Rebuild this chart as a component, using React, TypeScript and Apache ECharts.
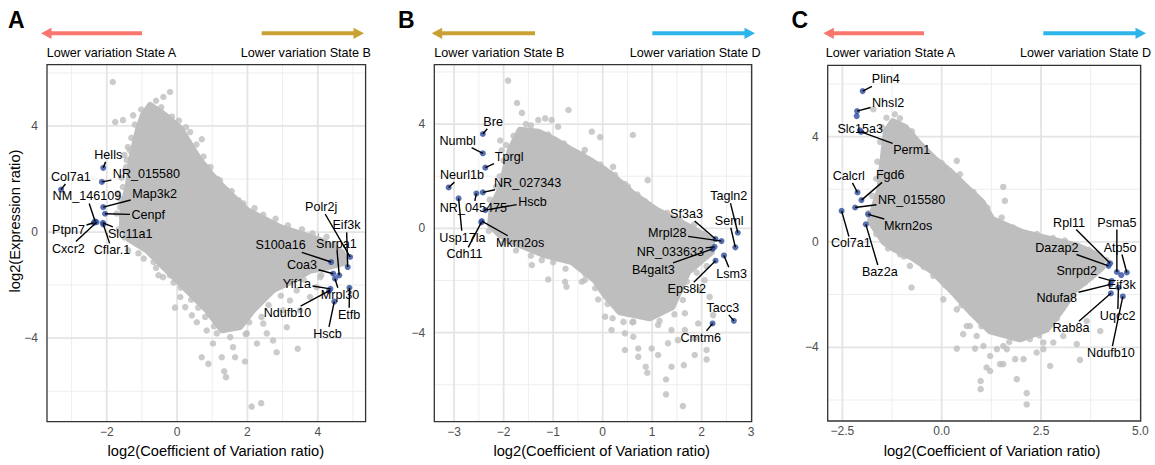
import React, { useEffect, useRef } from "react";
import * as echarts from "echarts";

const FONT = '"Liberation Sans", Arial, Helvetica, sans-serif';

// ---------------- Panel A (State A vs State B) ----------------
const genesA = ["Hells", "NR_015580", "Col7a1", "Map3k2", "Cenpf", "NM_146109", "Ptpn7", "Cxcr2", "Slc11a1", "Cflar.1",
  "Polr2j", "S100a16", "Eif3k", "Coa3", "Snrpa1", "Mrpl30", "Yif1a", "Ndufb10", "Etfb", "Hscb"];
const cvRatioA = [-2.10, -2.14, -3.30, -2.10, -2.05, -2.33, -2.37, -2.29, -2.11, -2.10,
  4.92, 4.38, 4.85, 4.44, 4.61, 4.49, 4.36, 4.32, 4.90, 4.47];
const exprRatioA = [2.42, 1.89, 1.60, 0.94, 0.69, 0.40, 0.35, 0.37, 0.35, 0.29,
  -0.94, -1.13, -1.32, -1.57, -1.63, -1.76, -2.14, -2.22, -2.10, -2.62];
const denseCloudA = [[-0.77, 4.78], [-0.34, 4.40], [0.09, 3.91], [0.43, 3.16], [0.65, 2.71], [0.99, 2.14], [1.31, 1.69],
  [1.99, 0.82], [2.93, 0.18], [4.07, -0.31], [4.69, -0.77], [4.78, -1.14], [4.35, -1.29], [3.78, -1.45], [3.21, -1.88],
  [2.73, -2.18], [2.16, -2.94], [1.79, -3.57], [1.28, -3.69], [0.85, -2.94], [0.28, -2.18], [-0.28, -1.45], [-0.85, -0.69],
  [-1.39, -0.24], [-1.56, 0.25], [-1.54, 1.01], [-1.39, 1.76], [-1.31, 2.71], [-1.11, 3.84], [-0.97, 4.40]];
const cloudPointsA = [[-1.83, 5.66], [-0.20, 5.28], [-0.39, 5.09], [-1.76, 4.15], [-1.54, 4.22], [-1.25, 4.40], [-0.86, 4.40],
  [-1.05, 3.84], [-1.19, 3.46], [-1.34, 3.08], [-1.43, 2.71], [-1.48, 2.33], [-1.54, 1.70], [-1.68, 1.46], [-1.62, 0.94],
  [-1.57, 0.57], [-1.39, -0.69], [0.70, 3.50], [0.37, 3.77], [0.13, 3.84], [0.28, 3.16], [0.46, 3.02], [0.84, 2.45],
  [1.02, 2.03], [1.22, 1.95], [1.41, 1.57], [1.36, 1.32], [1.45, 0.94], [1.88, 1.08], [1.70, 0.71], [2.62, 0.37],
  [2.36, 0.14], [2.93, -0.05], [3.30, -0.20], [-0.67, -1.13], [-0.53, -1.63], [-0.20, -1.63], [0.09, -2.45], [-0.06, -2.85],
  [0.56, -3.40], [0.70, -4.72], [0.89, -4.97], [1.34, -5.25], [1.39, -5.47], [1.93, -4.88], [3.12, -3.59], [3.43, -4.40],
  [2.83, -4.53], [2.12, -6.58], [2.39, -6.45], [0.84, -3.71], [1.02, -4.20], [1.59, -4.34], [2.27, -4.20], [2.55, -3.82],
  [2.73, -4.09], [3.50, -2.95], [3.78, -2.45], [3.97, -2.08], [4.07, -1.70], [0.23, -2.83], [0.42, -3.14], [1.13, -3.82],
  [1.51, -3.96], [1.98, -3.82], [1.65, -4.72], [1.27, -4.72], [2.45, -3.45], [3.01, -2.95], [3.21, -2.58],
  [-1.02, 4.62], [-1.20, 4.05], [-1.30, 3.55], [-1.40, 3.20], [-1.50, 2.90], [-1.45, 2.45], [-1.58, 2.05], [-1.62, 1.25],
  [-1.72, 0.70], [-1.66, 0.10], [-1.50, -0.20], [-1.15, -0.45], [-0.60, 4.95], [-0.45, 4.70], [-0.15, 4.35], [0.25, 3.95],
  [0.05, 4.20], [0.55, 3.30], [0.75, 2.85], [0.95, 2.45], [1.15, 2.00], [1.55, 1.55], [1.75, 1.20], [2.20, 0.90],
  [2.45, 0.65], [2.80, 0.50], [3.15, 0.25], [3.55, 0.10], [3.85, -0.05], [4.25, -0.18], [4.50, -0.45], [4.10, -1.62],
  [3.60, -1.80], [3.40, -2.20], [2.95, -2.40], [2.60, -2.75], [2.40, -3.20], [2.05, -3.40], [1.95, -3.85], [1.05, -3.55],
  [0.80, -3.20], [0.60, -2.85], [0.40, -2.55], [0.10, -2.10], [-0.10, -1.90], [-0.40, -1.70], [-0.60, -1.35],
  [-0.95, -1.00], [-1.10, -0.80]];
const xMajorA = [-2, 0, 2, 4];
const xMinorA = [-3, -1, 1, 3, 5];

// ---------------- Panel B (State B vs State D) ----------------
const genesB = ["Bre", "Numbl", "Tprgl", "Neurl1b", "NR_027343", "NR_045475", "Usp17la", "Hscb", "Mkrn2os", "Cdh11",
  "Tagln2", "Seml", "Sf3a3", "Mrpl28", "NR_033633", "B4galt3", "Lsm3", "Eps8l2", "Tacc3", "Cmtm6"];
const cvRatioB = [-2.42, -2.42, -2.37, -3.11, -2.42, -2.55, -2.91, -2.37, -2.44, -2.45,
  2.73, 2.68, 2.28, 2.40, 2.26, 2.22, 2.45, 2.28, 2.65, 2.22];
const exprRatioB = [3.62, 2.88, 2.33, 1.57, 1.38, 1.34, 1.15, 0.70, 0.28, 0.23,
  -0.17, -0.73, -0.41, -0.49, -0.71, -0.79, -1.04, -1.24, -3.55, -3.65];
const denseCloudB = [[-1.67, 3.77], [-1.30, 3.70], [-0.96, 3.39], [-0.62, 3.00], [-0.26, 2.62], [0.05, 2.24], [0.35, 1.78],
  [0.59, 1.36], [1.09, 0.70], [1.76, 0.05], [2.20, -0.45], [2.20, -0.91], [1.96, -1.29], [1.72, -1.68], [1.56, -2.37],
  [1.40, -3.02], [0.95, -3.44], [0.35, -3.21], [0.05, -2.56], [-0.16, -1.98], [-0.62, -1.29], [-1.16, -1.03], [-1.67, -0.64],
  [-2.07, -0.26], [-2.27, 0.13], [-2.23, 0.89], [-2.07, 1.47], [-1.97, 2.24], [-1.87, 3.01]];
const cloudPointsB = [[-1.91, 5.67], [-1.73, 4.81], [-1.63, 4.43], [-1.30, 4.16], [-1.16, 4.22], [-1.03, 4.16], [-0.69, 4.54],
  [-0.90, 3.90], [-2.07, 3.37], [-2.04, 2.99], [-0.22, 3.71], [-0.05, 3.50], [0.61, 3.58], [-0.36, 3.01], [-0.46, 2.62],
  [0.21, 2.36], [0.15, 2.12], [0.51, 1.60], [0.91, 1.85], [-0.09, -2.73], [0.18, -3.90], [0.45, -4.67], [0.62, -4.16],
  [0.87, -5.31], [0.90, -5.54], [1.28, -5.80], [1.28, -6.37], [1.62, -6.82], [1.39, -5.31], [1.64, -5.25], [2.10, -5.03],
  [1.86, -4.86], [2.10, -4.67], [2.16, -2.63], [2.23, -3.33], [-0.76, -2.05], [-1.10, -1.96], [-0.73, -2.24], [-1.43, -1.41],
  [-1.23, -1.22], [-0.42, -2.05], [-0.36, -1.98], [-0.02, -2.30], [0.72, -4.61], [0.99, -4.61], [1.12, -4.86], [0.72, -4.93],
  [0.45, -4.03], [0.62, -3.59], [1.12, -3.71], [1.39, -3.90], [1.66, -3.90], [1.52, -4.29], [1.32, -4.41], [1.66, -3.26],
  [1.93, -3.65], [1.86, -4.22], [0.05, -3.39], [0.31, -3.14], [0.42, -3.59], [2.06, -1.99], [1.96, -2.37],
  [-1.55, 4.00], [-1.80, 3.55], [-1.95, 3.20], [-2.00, 2.60], [-2.08, 2.00], [-2.15, 1.60], [-2.28, 1.10], [-2.30, -0.10],
  [-2.00, -0.55], [-1.75, -0.85], [-1.45, -1.05], [-1.00, -1.30], [-0.75, -1.55], [-0.35, -1.75], [-0.15, -2.30],
  [0.10, -2.90], [0.20, -3.45], [0.60, -3.60], [1.15, -3.55], [1.45, -3.30], [1.62, -2.75], [1.70, -2.05], [1.90, -1.70],
  [2.10, -1.45], [2.05, -0.20], [1.85, 0.15], [1.55, 0.35], [1.30, 0.60], [0.85, 1.05], [0.70, 1.30], [0.45, 1.70],
  [0.25, 2.05], [-0.05, 2.45], [-0.40, 2.85], [-0.78, 3.25], [-1.10, 3.60], [-1.45, 3.95]];
const xMajorB = [-3, -2, -1, 0, 1, 2, 3];
const xMinorB = [-2.5, -1.5, -0.5, 0.5, 1.5, 2.5];

// ---------------- Panel C (State A vs State D) ----------------
const genesC = ["Plin4", "Nhsl2", "", "Slc15a3", "Perm1", "Calcrl", "Fgd6", "NR_015580", "Col7a1", "Mkrn2os", "Baz2a",
  "Rpl11", "Psma5", "Dazap2", "Atp5o", "Eif3k", "Snrpd2", "Ndufa8", "Uqcc2", "Rab8a", "Ndufb10"];
const cvRatioC = [-1.99, -2.13, -2.14, -2.06, -2.03, -2.12, -2.02, -2.18, -2.52, -1.85, -1.91,
  4.24, 4.41, 4.20, 4.66, 4.52, 4.28, 4.25, 4.45, 4.26, 4.56];
const exprRatioC = [5.73, 4.97, 4.78, 4.24, 4.18, 1.88, 1.59, 1.31, 1.18, 1.05, 0.67,
  -0.81, -1.14, -0.91, -1.16, -1.26, -1.48, -1.61, -1.73, -1.95, -2.07];
const denseCloudC = [[-1.23, 4.58], [-0.92, 4.36], [-0.55, 3.71], [-0.17, 3.14], [0.21, 2.68], [0.59, 2.12], [1.02, 1.51],
  [1.27, 0.86], [2.02, 0.37], [3.43, -0.16], [3.99, -0.54], [4.04, -0.96], [3.79, -1.30], [3.36, -1.80], [3.03, -2.55],
  [2.65, -3.31], [1.97, -3.69], [1.22, -3.39], [0.71, -2.63], [0.26, -1.87], [-0.24, -1.11], [-0.75, -0.58], [-1.18, -0.28],
  [-1.45, -0.01], [-1.80, 0.79], [-1.68, 1.43], [-1.56, 2.00], [-1.51, 2.76], [-1.45, 3.52], [-1.40, 4.20]];
const cloudPointsC = [[-1.39, 4.72], [-1.18, 4.85], [-1.72, 5.04], [0.38, 3.08], [0.46, 2.57], [1.55, 2.09], [1.59, 1.56],
  [1.51, 0.93], [-1.05, -0.47], [-0.80, -0.91], [-0.76, -1.73], [-0.38, -0.78], [-0.21, -1.29], [0.04, -2.18], [0.38, -2.56],
  [0.71, -3.19], [0.38, -4.05], [0.84, -4.05], [1.05, -3.95], [1.13, -4.77], [1.22, -4.90], [0.98, -5.28], [0.98, -5.59],
  [1.89, -5.21], [2.14, -5.74], [2.14, -6.17], [1.47, -4.64], [1.55, -4.64], [1.85, -4.45], [2.06, -4.45], [2.39, -4.20],
  [2.73, -4.71], [3.40, -3.88], [3.48, -4.48], [3.99, -3.38], [3.65, -3.00], [3.06, -3.57], [2.81, -3.82], [2.56, -4.07],
  [1.64, -4.07], [1.39, -4.07], [0.54, -3.50], [0.63, -3.19], [0.88, -3.57], [1.22, -4.33], [1.55, -3.95], [2.22, -3.69],
  [2.56, -3.82],
  [-1.05, 4.70], [-0.75, 4.20], [-0.40, 3.50], [0.00, 3.00], [0.40, 2.45], [0.80, 1.90], [1.15, 1.30], [1.50, 0.60],
  [1.80, 0.55], [2.40, 0.30], [2.80, 0.15], [3.10, 0.05], [3.70, -0.30], [4.15, -0.70], [3.60, -1.55], [3.25, -2.10],
  [2.90, -2.90], [2.45, -3.55], [1.70, -3.80], [1.00, -3.20], [0.50, -2.40], [0.10, -1.65], [-0.45, -0.95], [-0.95, -0.55],
  [-1.35, -0.25], [-1.65, 0.30], [-1.85, 1.10], [-1.75, 1.75], [-1.65, 2.40], [-1.62, 3.05], [-1.55, 3.80], [-1.50, 4.35]];
const xMajorC = [-2.5, 0, 2.5, 5];
const xMinorC = [-1.25, 1.25, 3.75];

const yMajor = [-4, 0, 4];
const yMinor = [-6, -2, 2, 6];

// ---------------- layout (pixels), kept apart from the data ----------------
const labelOffsetsA = [[5, -13], [44.6, -8.4], [9.8, -12.6], [51.4, -13.4], [43.3, 1], [-8.3, -25], [-25.2, 7.7], [-28.2, 26.3],
  [27.3, 11], [8.7, 26], [-29, -50], [-50.5, -16.7], [-1.2, -41.7], [-31.3, -8.3], [-2.8, -31.7], [5, 16], [-33.5, -5.2],
  [-41.5, 22.2], [-0.3, 27], [-6.8, 32.3]];
const labelOffsetsB = [[10.3, -12.3], [-25.2, -12.6], [23.8, -11], [13.4, -12.3], [44.8, -9.6], [-3, 14.4], [3.9, 39.4],
  [47.2, -8.3], [38.3, 21.7], [-16.8, 32], [-9.1, -36.7], [-6.2, -26.6], [-29, -25], [-54.2, -7.7], [-44.2, 5], [-59.3, 21],
  [7.7, 18.7], [-28.8, 28.6], [-11, -13], [-11.9, 14.4]];
const labelOffsetsC = [[23.1, -11.7], [31, -8.4], [0, 0], [0.3, -1], [50.7, 18.5], [-8.7, -16.6], [28.8, -24.7], [56.5, -7.3],
  [9.3, 32.6], [40, 11.7], [14, 47.7], [-41, -40.7], [0, -49.4], [-51.6, -18.4], [-6.7, -25], [0.7, 10], [-35, -10],
  [-53.8, 13.3], [-0.8, 28.4], [-39.9, 35], [-11.9, 56.7]];

const PINK = "#F8766D";
const GOLD = "#C9A033";
const SKY = "#2DB4E8";
const GREY = "#BEBEBE";
const HILITE = "#2E4C9E";
const GRID_MAJOR = "#E4E4E4";
const GRID_MINOR = "#EEEEEE";

const panels = [
  { names: genesA, cv: cvRatioA, expr: exprRatioA, core: denseCloudA, cloud: cloudPointsA, offsets: labelOffsetsA,
    xMajor: xMajorA, xMinor: xMinorA, left: 47, top: 64.7, width: 318.6, height: 357,
    xMin: -3.70, xMax: 5.36, yMin: -7.15, yMax: 6.31, decimals: 0 },
  { names: genesB, cv: cvRatioB, expr: exprRatioB, core: denseCloudB, cloud: cloudPointsB, offsets: labelOffsetsB,
    xMajor: xMajorB, xMinor: xMinorB, left: 434.3, top: 64.7, width: 317.4, height: 357,
    xMin: -3.40, xMax: 3.01, yMin: -7.42, yMax: 6.28, decimals: 0 },
  { names: genesC, cv: cvRatioC, expr: exprRatioC, core: denseCloudC, cloud: cloudPointsC, offsets: labelOffsetsC,
    xMajor: xMajorC, xMinor: xMinorC, left: 827.7, top: 65.3, width: 313, height: 355.7,
    xMin: -2.87, xMax: 5.01, yMin: -6.80, yMax: 6.71, decimals: 1 },
];

const panelHeaders = [
  { letter: "A", letterX: 8, leftText: "Lower variation State A", rightText: "Lower variation State B", leftColor: PINK, rightColor: GOLD,
    arrowL: [142, 41], arrowR: [261.7, 364], textL: 46.7, textR: 371, titleX: 215.8 },
  { letter: "B", letterX: 398, leftText: "Lower variation State B", rightText: "Lower variation State D", leftColor: GOLD, rightColor: SKY,
    arrowL: [535, 431.7], arrowR: [652.3, 755], textL: 434.3, textR: 760.7, titleX: 601.7 },
  { letter: "C", letterX: 791.5, leftText: "Lower variation State A", rightText: "Lower variation State D", leftColor: PINK, rightColor: SKY,
    arrowL: [924, 823.3], arrowR: [1043.3, 1146], textL: 825.7, textR: 1151, titleX: 992 },
];

let measureCtx: CanvasRenderingContext2D | null = null;
function textWidth(s: string, size: number): number {
  if (!measureCtx) measureCtx = document.createElement("canvas").getContext("2d");
  if (!measureCtx) return s.length * size * 0.55;
  measureCtx.font = `${size}px "Liberation Sans"`;
  return measureCtx.measureText(s).width;
}

function fmtTick(v: number, decimals: number): string {
  const s = Math.abs(v).toFixed(decimals);
  return v < 0 ? "\u2212" + s : s;
}

const LABEL_SIZE = 12.6;

function buildOption() {
  const grid: any[] = [];
  const xAxis: any[] = [];
  const yAxis: any[] = [];
  const series: any[] = [];
  const graphic: any[] = [];

  panels.forEach((P, i) => {
    grid.push({ left: P.left, top: P.top, width: P.width, height: P.height, containLabel: false, show: false });
    xAxis.push({
      type: "value", gridIndex: i, min: P.xMin, max: P.xMax,
      axisLine: { show: false },
      axisTick: { show: true, length: 4.5, lineStyle: { color: "#333333", width: 1 }, customValues: P.xMajor },
      axisLabel: { customValues: P.xMajor, formatter: (v: number) => fmtTick(v, P.decimals), fontSize: 12,
        color: "#4D4D4D", margin: 4, fontFamily: FONT },
      splitLine: { show: false },
    });
    yAxis.push({
      type: "value", gridIndex: i, min: P.yMin, max: P.yMax,
      axisLine: { show: false },
      axisTick: { show: true, length: 4.5, lineStyle: { color: "#333333", width: 1 }, customValues: yMajor },
      axisLabel: { customValues: yMajor, formatter: (v: number) => fmtTick(v, 0), fontSize: 12,
        color: "#4D4D4D", margin: 9, fontFamily: FONT },
      splitLine: { show: false },
    });

    // grid lines (as thin rectangles) + dense core of the gene cloud
    series.push({
      type: "custom", xAxisIndex: i, yAxisIndex: i, silent: true, z: 2,
      data: [[0, 0]],
      renderItem: (params: any, api: any) => {
        const cs = params.coordSys;
        const children: any[] = [];
        const vline = (v: number, major: boolean) => {
          const x = api.coord([v, 0])[0];
          const w = major ? 1.8 : 1;
          children.push({ type: "rect", shape: { x: x - w / 2, y: cs.y, width: w, height: cs.height },
            style: { fill: major ? GRID_MAJOR : GRID_MINOR } });
        };
        const hline = (v: number, major: boolean) => {
          const y = api.coord([0, v])[1];
          const w = major ? 1.8 : 1;
          children.push({ type: "rect", shape: { x: cs.x, y: y - w / 2, width: cs.width, height: w },
            style: { fill: major ? GRID_MAJOR : GRID_MINOR } });
        };
        P.xMinor.forEach((v) => vline(v, false));
        yMinor.forEach((v) => hline(v, false));
        P.xMajor.forEach((v) => vline(v, true));
        yMajor.forEach((v) => hline(v, true));
        children.push({
          type: "polygon",
          shape: { points: P.core.map((p) => api.coord(p)) },
          style: { fill: GREY, stroke: GREY, lineWidth: 6.5, lineJoin: "round" },
        });
        return { type: "group", children };
      },
    });
    // individual grey genes
    series.push({
      type: "scatter", xAxisIndex: i, yAxisIndex: i, silent: true, z: 3,
      symbol: "circle", symbolSize: 6.5, itemStyle: { color: GREY },
      data: P.cloud,
    });
    // highlighted genes
    series.push({
      type: "scatter", xAxisIndex: i, yAxisIndex: i, silent: true, z: 4,
      symbol: "circle", symbolSize: 6, itemStyle: { color: HILITE },
      data: P.cv.map((x, k) => [x, P.expr[k]]),
    });
    // labels with leader segments
    series.push({
      type: "custom", xAxisIndex: i, yAxisIndex: i, silent: true, z: 5,
      data: P.cv.map((x, k) => [x, P.expr[k]]),
      renderItem: (params: any, api: any) => {
        const k = params.dataIndex;
        const name = P.names[k];
        if (!name) return { type: "group", children: [] };
        const p = api.coord([api.value(0), api.value(1)]);
        const off = P.offsets[k];
        const cx = p[0] + off[0];
        const cy = p[1] + off[1];
        const hw = textWidth(name, LABEL_SIZE) / 2 + 1.5;
        const hh = 7;
        const vx = p[0] - cx;
        const vy = p[1] - cy;
        const tx = vx !== 0 ? hw / Math.abs(vx) : Infinity;
        const ty = vy !== 0 ? hh / Math.abs(vy) : Infinity;
        const t = Math.min(tx, ty);
        const children: any[] = [];
        if (t < 1) {
          const ex = cx + vx * t;
          const ey = cy + vy * t;
          if (Math.hypot(p[0] - ex, p[1] - ey) > 5) {
            children.push({ type: "line", shape: { x1: ex, y1: ey, x2: p[0], y2: p[1] },
              style: { stroke: "#000000", lineWidth: 1.4 } });
          }
        }
        children.push({ type: "text", style: { text: name, x: cx, y: cy, align: "center", verticalAlign: "middle",
          fontSize: LABEL_SIZE, fontFamily: FONT, fill: "#000000" } });
        return { type: "group", children };
      },
    });
    // panel border
    series.push({
      type: "custom", xAxisIndex: i, yAxisIndex: i, silent: true, z: 6,
      data: [[0, 0]],
      renderItem: (params: any) => {
        const cs = params.coordSys;
        return { type: "rect", shape: { x: cs.x, y: cs.y, width: cs.width, height: cs.height },
          style: { fill: "none", stroke: "#333333", lineWidth: 1.3 } };
      },
    });
  });

  panelHeaders.forEach((H) => {
    const ay = 33.3;
    graphic.push({ type: "text", left: H.letterX, top: 8,
      style: { text: H.letter, fontSize: 23, fontWeight: "bold", fontFamily: FONT, fill: "#000000" } });
    graphic.push({ type: "line", shape: { x1: H.arrowL[0], y1: ay, x2: H.arrowL[1] + 8, y2: ay },
      style: { stroke: H.leftColor, lineWidth: 4 } });
    graphic.push({ type: "polygon", shape: { points: [[H.arrowL[1], ay], [H.arrowL[1] + 10.5, ay - 5.6], [H.arrowL[1] + 10.5, ay + 5.6]] },
      style: { fill: H.leftColor } });
    graphic.push({ type: "line", shape: { x1: H.arrowR[0], y1: ay, x2: H.arrowR[1] - 8, y2: ay },
      style: { stroke: H.rightColor, lineWidth: 4 } });
    graphic.push({ type: "polygon", shape: { points: [[H.arrowR[1], ay], [H.arrowR[1] - 10.5, ay - 5.6], [H.arrowR[1] - 10.5, ay + 5.6]] },
      style: { fill: H.rightColor } });
    graphic.push({ type: "text", x: H.textL, y: 53.3,
      style: { text: H.leftText, fontSize: 12.6, fontFamily: FONT, fill: "#000000", align: "left", verticalAlign: "middle" } });
    graphic.push({ type: "text", x: H.textR, y: 53.3,
      style: { text: H.rightText, fontSize: 12.6, fontFamily: FONT, fill: "#000000", align: "right", verticalAlign: "middle" } });
    graphic.push({ type: "text", x: H.titleX, y: 451,
      style: { text: "log2(Coefficient of Variation ratio)", fontSize: 14.7, fontFamily: FONT, fill: "#000000",
        align: "center", verticalAlign: "middle" } });
  });
  graphic.push({ type: "text", x: 15, y: 221, rotation: Math.PI / 2,
    style: { text: "log2(Expression ratio)", fontSize: 14.7, fontFamily: FONT, fill: "#000000",
      align: "center", verticalAlign: "middle" } });

  return { animation: false, backgroundColor: "#FFFFFF", grid, xAxis, yAxis, series, graphic };
}

export default function App() {
  const ref = useRef<HTMLDivElement>(null);
  useEffect(() => {
    if (!ref.current) return;
    const chart = echarts.init(ref.current, null, { renderer: "svg" });
    chart.setOption(buildOption() as any);
    return () => chart.dispose();
  }, []);
  return (
    <div ref={ref} style={{ position: "fixed", left: 0, top: 0, width: 1155, height: 465, background: "#FFFFFF" }} />
  );
}
